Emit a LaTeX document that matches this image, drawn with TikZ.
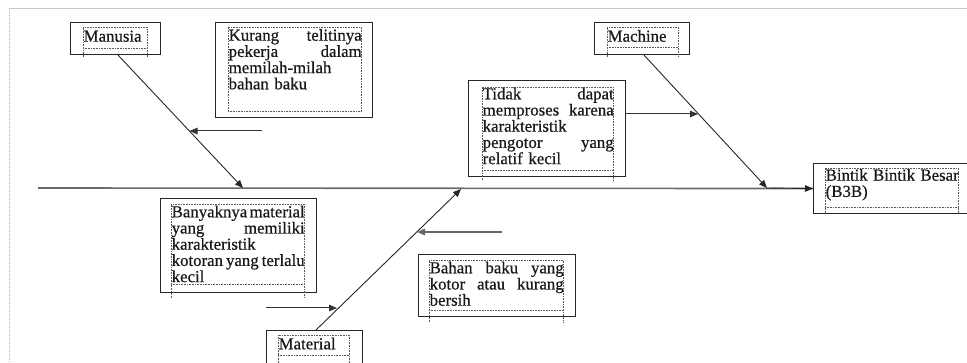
\documentclass[tikz,border=0pt]{standalone}
\usepackage{fontspec}
\setmainfont{Liberation Serif}[FakeBold=0.6]
\usetikzlibrary{arrows.meta}
\begin{document}
\begin{tikzpicture}[x=1pt,y=-1pt,
  box/.style={draw=black!85, line width=1.1pt, inner sep=0pt, anchor=north west},
  txt/.style={inner sep=0pt, anchor=base west, font=\fontsize{16.8}{16.2}\selectfont, text=black!90},
  frame/.style={draw=black!65, densely dotted, line width=0.6pt},
  bone/.style={draw=black!85, line width=0.9pt, -{Triangle[length=8pt,width=6.5pt]}},
  cause/.style={draw=black!80, line width=1pt, -{Triangle[length=8pt,width=6.5pt]}},
  spine/.style={draw=black!58, line width=1.6pt}]
\useasboundingbox (0,0) rectangle (967,363);
\clip (0,0) rectangle (967,363);
% page frame
\draw[black!22, line width=1pt] (9,9) -- (967,9);
\draw[black!30, densely dotted, line width=1pt] (9,9) -- (9,363);
% boxes
\node[box, minimum width=90pt, minimum height=32pt] (manusia) at (70,22) {};
\node[box, minimum width=157pt, minimum height=95pt] (kurang) at (215,22) {};
\node[box, minimum width=95pt, minimum height=32pt] (machine) at (594,22) {};
\node[box, minimum width=157pt, minimum height=96pt] (tidak) at (468,80) {};
\node[box, minimum width=170pt, minimum height=50pt] (effect) at (813,163) {};
\node[box, minimum width=156pt, minimum height=94pt] (banyak) at (160,198) {};
\node[box, minimum width=157pt, minimum height=62pt] (bahan) at (418,254) {};
\node[box, minimum width=96pt, minimum height=40pt] (material) at (266,330) {};
% dotted text frames
\draw[frame] (83,57) -- (83,27) -- (147,27) -- (147,57) (83,48) -- (147,48);
\draw[frame] (228,112) -- (228,27) -- (361,27) -- (361,112) (228,111) -- (361,111);
\draw[frame] (607,57) -- (607,27) -- (678,27) -- (678,57) (607,47) -- (678,47);
\draw[frame] (482,180) -- (482,87) -- (613,87) -- (613,180) (482,170) -- (613,170);
\draw[frame] (825,213) -- (825,168) -- (958,168) -- (958,213) (825,207) -- (958,207);
\draw[frame] (171,298) -- (171,204) -- (304,204) -- (304,298) (171,284) -- (304,284);
\draw[frame] (429,322) -- (429,260) -- (563,260) -- (563,322) (429,310) -- (563,310);
\draw[frame] (278,363) -- (278,335) -- (349,335) -- (349,363) (278,355) -- (349,355);
% texts
\node[txt] (tmanusia) at (83.5,41.7) {Manusia};
\node[txt, text width=133pt] (tkurang) at (228.5,40.7) {Kurang\hfill telitinya\\pekerja\hfill dalam\\memilah-milah\\bahan baku};
\node[txt] (tmachine) at (607.5,41.7) {Machine};
\node[txt, text width=131pt] (ttidak) at (482.5,99.3) {Tidak\hfill dapat\\memproses\hfill karena\\karakteristik\\pengotor\hfill yang\\relatif kecil};
\node[txt, text width=133pt] (teffect) at (825.5,180.7) {Bintik\hfill Bintik\hfill Besar\\(B3B)};
\node[txt, text width=133pt] (tbanyak) at (171.5,217.3) {Banyaknya\hfill material\\yang\hfill memiliki\\karakteristik\\kotoran\hfill yang\hfill terlalu\\kecil};
\node[txt, text width=134pt] (tbahan) at (429.5,273.3) {Bahan\hfill baku\hfill yang\\kotor\hfill atau\hfill kurang\\bersih};
\node[txt] (tmaterial) at (278.5,349.3) {Material};
% spine
\coordinate (tail) at (38,188);
\coordinate (sm) at (243,188);
\coordinate (sc) at (767,188);
\coordinate (sl) at (461,189);
\draw[spine] (tail) -- (effect.west);
\draw[black!85, line width=0.9pt, -{Triangle[length=8pt,width=6.5pt]}] (sc) -- (effect.west);
% main bones
\coordinate (manusiaS) at (117,54);
\coordinate (machineS) at (643,54);
\coordinate (materialN) at (316,330);
\draw[bone] (manusiaS) -- (sm);
\draw[bone] (machineS) -- (sc);
\draw[bone] (materialN) -- (sl);
% cause arrows
\coordinate (kA) at (262,131);
\coordinate (kB) at (189.5,131);
\draw[cause] (kA) -- (kB);
\coordinate (tA) at (625,114);
\coordinate (tB) at (698,114);
\draw[cause] (tA) -- (tB);
\coordinate (bA) at (266,308);
\coordinate (bB) at (337,308);
\draw[cause] (bA) -- (bB);
\coordinate (hA) at (502,232);
\coordinate (hB) at (417,232);
\draw[cause, draw=black!60, line width=1.5pt] (hA) -- (hB);
\end{tikzpicture}
\end{document}
